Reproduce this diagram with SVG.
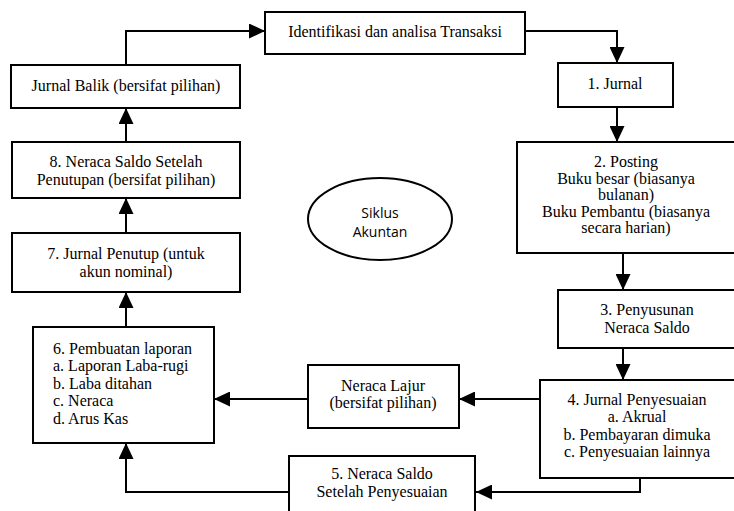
<svg xmlns="http://www.w3.org/2000/svg" width="734" height="511" viewBox="0 0 734 511">
<style>
rect.box{fill:#fff;stroke:#000;stroke-width:2}
ellipse.box{fill:#fff;stroke:#000;stroke-width:2}
text{font-family:"Liberation Serif","Times New Roman",serif;font-size:16px;fill:#000}
text.c{text-anchor:middle}
text.sans{font-family:"Open Sans","Liberation Sans",Arial,sans-serif;font-size:14px}
#connectors path{fill:none;stroke:#000;stroke-width:2}
</style>
<defs>
<marker id="ah" markerUnits="userSpaceOnUse" markerWidth="16" markerHeight="15" refX="16" refY="7.5" orient="auto">
<path d="M0,0 L16,7.5 L0,15 z" fill="#000"/>
</marker>
</defs>
<g id="connectors">
<path d="M126,65 V31 H265" marker-end="url(#ah)"/>
<path d="M525,31 H617 V63" marker-end="url(#ah)"/>
<path d="M617,107 V142" marker-end="url(#ah)"/>
<path d="M623,253 V290" marker-end="url(#ah)"/>
<path d="M623,348 V380" marker-end="url(#ah)"/>
<path d="M540,399 H459" marker-end="url(#ah)"/>
<path d="M308,399 H214" marker-end="url(#ah)"/>
<path d="M640,478 V492 H476" marker-end="url(#ah)"/>
<path d="M289,492 H126 V443" marker-end="url(#ah)"/>
<path d="M126,327 V292" marker-end="url(#ah)"/>
<path d="M126,233 V198" marker-end="url(#ah)"/>
<path d="M126,142 V108" marker-end="url(#ah)"/>
</g>
<g id="identifikasi">
<rect class="box" x="265" y="12" width="260" height="42"/>
<text class="c" x="395" y="37">Identifikasi dan analisa Transaksi</text>
</g>
<g id="jurnal-balik">
<rect class="box" x="11" y="65" width="229" height="43"/>
<text class="c" x="126" y="91">Jurnal Balik (bersifat pilihan)</text>
</g>
<g id="n1">
<rect class="box" x="558" y="63" width="115" height="44"/>
<text class="c" x="615" y="89">1.  Jurnal</text>
</g>
<g id="n2">
<rect class="box" x="517" y="142" width="220" height="111"/>
<text class="c" x="626" y="167">2. Posting</text>
<text class="c" x="626" y="184">Buku besar (biasanya</text>
<text class="c" x="626" y="200">bulanan)</text>
<text class="c" x="626" y="217">Buku Pembantu (biasanya</text>
<text class="c" x="626" y="233">secara harian)</text>
</g>
<g id="n3">
<rect class="box" x="558" y="290" width="180" height="58"/>
<text class="c" x="647" y="315">3. Penyusunan</text>
<text class="c" x="647" y="333">Neraca Saldo</text>
</g>
<g id="n4">
<rect class="box" x="540" y="380" width="200" height="98"/>
<text class="c" x="637" y="405">4. Jurnal Penyesuaian</text>
<text class="c" x="637" y="422">a. Akrual</text>
<text class="c" x="637" y="440">b. Pembayaran dimuka</text>
<text class="c" x="637" y="457">c. Penyesuaian lainnya</text>
</g>
<g id="neraca-lajur">
<rect class="box" x="308" y="365" width="151" height="63"/>
<text class="c" x="383" y="391">Neraca Lajur</text>
<text class="c" x="383" y="408">(bersifat pilihan)</text>
</g>
<g id="n5">
<rect class="box" x="289" y="456" width="186" height="62"/>
<text class="c" x="382" y="479">5. Neraca Saldo</text>
<text class="c" x="382" y="497">Setelah Penyesuaian</text>
</g>
<g id="n6">
<rect class="box" x="33" y="327" width="181" height="116"/>
<text x="53" y="354">6. Pembuatan laporan</text>
<text x="53" y="371">a. Laporan Laba-rugi</text>
<text x="53" y="389">b. Laba ditahan</text>
<text x="53" y="406">c. Neraca</text>
<text x="53" y="424">d. Arus Kas</text>
</g>
<g id="n7">
<rect class="box" x="12" y="233" width="228" height="59"/>
<text class="c" x="126" y="259">7. Jurnal Penutup (untuk</text>
<text class="c" x="126" y="277">akun nominal)</text>
</g>
<g id="n8">
<rect class="box" x="12" y="142" width="228" height="56"/>
<text class="c" x="126" y="167">8. Neraca Saldo Setelah</text>
<text class="c" x="126" y="185">Penutupan (bersifat pilihan)</text>
</g>
<g id="siklus">
<ellipse class="box" cx="380" cy="219" rx="72" ry="41"/>
<text class="c sans" x="380" y="218">Siklus</text>
<text class="c sans" x="380" y="237">Akuntan</text>
</g>
</svg>
